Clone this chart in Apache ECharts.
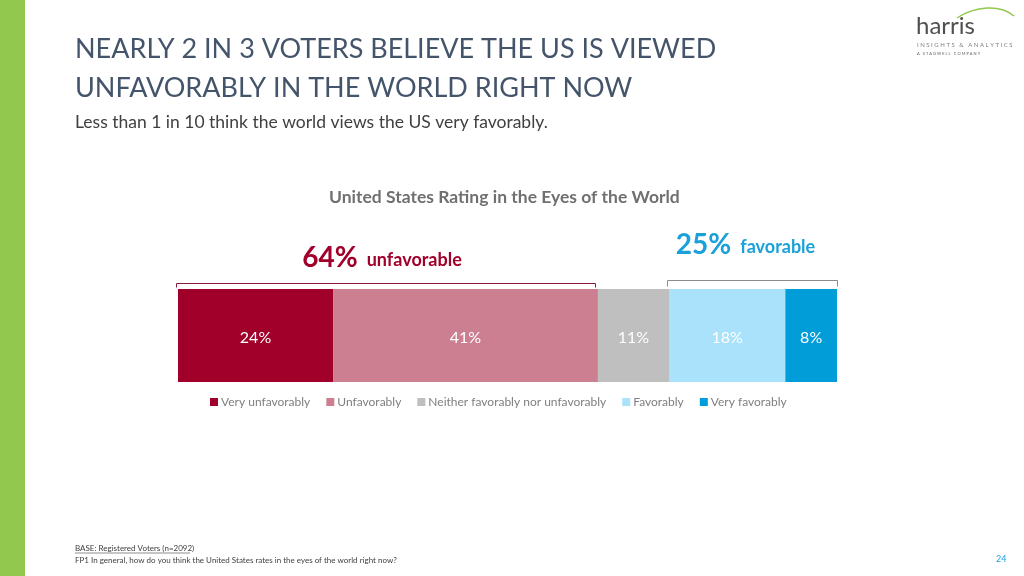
<!DOCTYPE html>
<html>
<head>
<meta charset="utf-8">
<script src="https://cdn.jsdelivr.net/npm/echarts@6/dist/echarts.min.js"></script>
<style>
html,body{margin:0;padding:0;background:#fff;}
#main{width:1024px;height:576px;}
</style>
</head>
<body>
<div id="main"></div>
<script>
const categories = ['Very unfavorably', 'Unfavorably', 'Neither favorably nor unfavorably', 'Favorably', 'Very favorably'];
const values = [24, 41, 11, 18, 8];
const colors = ['#A0002A', '#CD7F92', '#BFBFBF', '#A9E2FA', '#009DD9'];
const groupLabels = [
  { pct: '64%', word: 'unfavorable', from: 0, to: 2, color: '#A0002A', line: '#8C1A3A' },
  { pct: '25%', word: 'favorable', from: 3, to: 5, color: '#1BA1DA', line: '#8C8C8C' }
];

const total = values.reduce((a, b) => a + b, 0);
const cum = [0];
values.forEach((v, i) => cum.push(cum[i] + v));

const font = 'Lato, "Open Sans", sans-serif';

const barSeries = categories.map((name, i) => ({
  name: name,
  type: 'bar',
  stack: 'all',
  barWidth: '100%',
  data: [values[i]],
  itemStyle: { color: colors[i] },
  label: {
    show: true,
    position: 'inside',
    formatter: values[i] + '%',
    color: '#fff',
    fontSize: 16,
    fontFamily: font,
    offset: [0, 2]
  },
  emphasis: { disabled: true }
}));

const bracketData = groupLabels.map((g, i) => [cum[g.from], cum[g.to], i]);

const bracketSeries = {
  type: 'custom',
  silent: true,
  clip: false,
  data: bracketData,
  encode: { x: [0, 1], y: 2 },
  renderItem: function (params, api) {
    const g = groupLabels[api.value(2)];
    const p0 = api.coord([api.value(0), 0]);
    const p1 = api.coord([api.value(1), 0]);
    const band = api.size([0, 1])[1];
    const top = p0[1] - band / 2;
    const isFirst = api.value(2) === 0;
    const yLine = Math.round(isFirst ? top - 6 : top - 9) + 0.5;
    const x0 = Math.round(p0[0] - 2) + 0.5;
    const x1 = Math.round(p1[0] - (isFirst ? 3 : 0)) + 0.5;
    const cx = (x0 + x1) / 2;
    const ty = isFirst ? yLine - 26 : yLine - 36;
    return {
      type: 'group',
      children: [
        {
          type: 'polyline',
          shape: { points: [[x0, yLine + (isFirst ? 4 : 6)], [x0, yLine], [x1, yLine], [x1, yLine + (isFirst ? 4 : 6)]] },
          style: { stroke: g.line, lineWidth: 1, fill: null }
        },
        {
          type: 'text',
          x: cx - (isFirst ? 4 : 7),
          y: ty,
          style: {
            text: '{a|' + g.pct + '}{b|' + g.word + '}',
            align: 'center',
            verticalAlign: 'middle',
            rich: {
              a: { fontSize: 28, fontWeight: 'bold', fill: g.color, color: g.color, fontFamily: font, verticalAlign: 'bottom' },
              b: { fontSize: 18, fontWeight: 'bold', fill: g.color, color: g.color, fontFamily: font, verticalAlign: 'bottom', padding: [0, 0, 2, 9] }
            }
          }
        }
      ]
    };
  }
};

const chart = echarts.init(document.getElementById('main'), null, { renderer: 'canvas' });
chart.setOption({
  animation: false,
  backgroundColor: '#fff',
  grid: { left: 178, right: 187, top: 289, height: 93, containLabel: false },
  xAxis: { type: 'value', min: 0, max: total, show: false },
  yAxis: { type: 'category', data: ['US'], show: false },
  legend: {
    data: categories,
    top: 391,
    left: 205,
    itemWidth: 8,
    itemHeight: 8,
    itemGap: 16,
    icon: 'rect',
    selectedMode: false,
    textStyle: { color: '#7F7F7F', fontSize: 12, fontFamily: font, padding: [0, 0, 0, -2] }
  },
  series: barSeries.concat([bracketSeries]),
  graphic: [
    { type: 'rect', left: 0, top: 0, shape: { width: 25, height: 576 }, style: { fill: '#92C84E' } },
    { type: 'text', left: 75, top: 36, style: { text: 'NEARLY 2 IN 3 VOTERS BELIEVE THE US IS VIEWED', fill: '#44546A', fontSize: 27, fontFamily: font } },
    { type: 'text', left: 75, top: 75, style: { text: 'UNFAVORABLY IN THE WORLD RIGHT NOW', fill: '#44546A', fontSize: 27, fontFamily: font } },
    { type: 'text', left: 75, top: 113, style: { text: 'Less than 1 in 10 think the world views the US very favorably.', fill: '#404040', fontSize: 17.5, fontFamily: font } },
    { type: 'text', left: 329, top: 188, style: { text: 'United States Rating in the Eyes of the World', fill: '#707070', fontSize: 17.5, fontWeight: 'bold', fontFamily: font } },
    { type: 'text', left: 75, top: 544, style: { text: 'BASE: Registered Voters (n=2092)', fill: '#404040', fontSize: 8, fontFamily: font } },
    { type: 'line', shape: { x1: 75, y1: 553, x2: 190, y2: 553 }, style: { stroke: '#404040', lineWidth: 0.6 } },
    { type: 'text', left: 75, top: 556, style: { text: 'FP1 In general, how do you think the United States rates in the eyes of the world right now?', fill: '#404040', fontSize: 8, fontFamily: font } },
    { type: 'text', left: 996, top: 555, style: { text: '24', fill: '#1BA1DA', fontSize: 9, fontFamily: font } },
    { type: 'text', left: 916, top: 14, style: { text: 'harris', fill: '#505050', fontSize: 24, fontFamily: font } },
    { type: 'bezierCurve', shape: { x1: 957, y1: 18, x2: 1014, y2: 16, cpx1: 975, cpy1: 6, cpx2: 1000, cpy2: 4 }, style: { stroke: '#92C84E', lineWidth: 1.5, fill: null } },
    { type: 'text', left: 917, top: 42, style: { text: 'I N S I G H T S   &   A N A L Y T I C S', fill: '#808080', fontSize: 6, fontFamily: font } },
    { type: 'text', left: 917, top: 52, style: { text: 'A   S T A G W E L L   C O M P A N Y', fill: '#606060', fontSize: 4, fontFamily: font } }
  ]
});
</script>
</body>
</html>
